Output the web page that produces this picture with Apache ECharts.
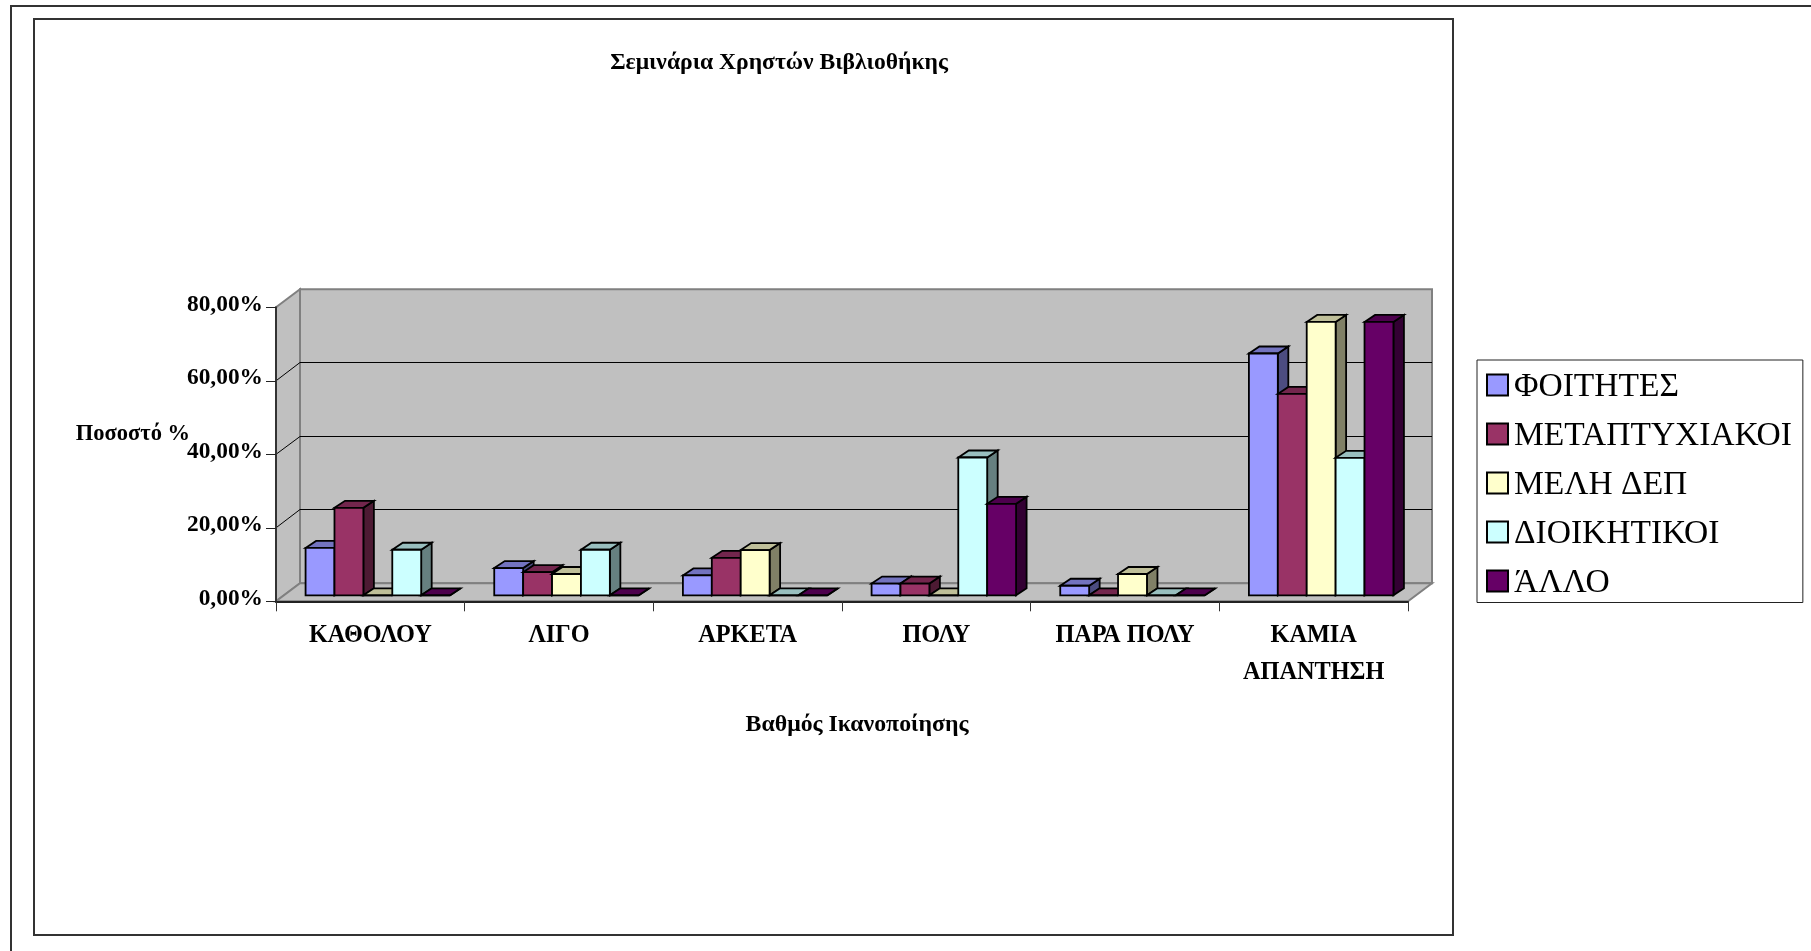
<!DOCTYPE html>
<html><head><meta charset="utf-8">
<style>html,body{margin:0;padding:0;background:#fff;overflow:hidden}#c{width:1811px;height:951px}</style>
<script src="https://cdn.jsdelivr.net/npm/echarts@6/dist/echarts.min.js"></script>
</head><body><div id="c"></div>
<script>
const categories = ['ΚΑΘΟΛΟΥ','ΛΙΓΟ','ΑΡΚΕΤΑ','ΠΟΛΥ','ΠΑΡΑ ΠΟΛΥ','ΚΑΜΙΑ\nΑΠΑΝΤΗΣΗ'];
const foitites = [12.9,7.4,5.4,3.2,2.6,65.8];
const metaptyxiakoi = [23.8,6.3,10.2,3.2,0,54.8];
const meliDep = [0,5.8,12.3,0,5.8,74.4];
const dioikitikoi = [12.4,12.4,0,37.5,0,37.4];
const allo = [0,0,0,24.9,0,74.4];
const seriesNames = ['ΦΟΙΤΗΤΕΣ','ΜΕΤΑΠΤΥΧΙΑΚΟΙ','ΜΕΛΗ ΔΕΠ','ΔΙΟΙΚΗΤΙΚΟΙ','ΆΛΛΟ'];
const seriesValues = [foitites,metaptyxiakoi,meliDep,dioikitikoi,allo];
const yTicks = [0,20,40,60,80];

const front = ['#9999FF','#993366','#FFFFCC','#CCFFFF','#660066'];
const top3d = ['#7373BF','#73264D','#BFBF99','#99BFBF','#4D004D'];
const side3d = ['#4C4C80','#4D1A33','#808066','#668080','#330033'];
const SERIF = '"Liberation Serif","Times New Roman",serif';
const WALL = {dx:24, dy:-18};
const BAR = {dx:10.5, dy:-7, shiftX:7.5, shiftY:-6, ratio:0.766};

function poly(points, fill, stroke, lw){
  return {type:'polygon', shape:{points}, style:{fill, stroke, lineWidth:lw, lineJoin:'miter'}};
}
function renderWalls(params, api){
  const cs = params.coordSys;
  const L = cs.x, R = cs.x+cs.width, T = cs.y, B = cs.y+cs.height;
  const dx = WALL.dx, dy = WALL.dy;
  const children = [
    poly([[L+dx,T+dy],[R+dx,T+dy],[R+dx,B+dy],[L+dx,B+dy]],'#C0C0C0','#808080',2),
    poly([[L,T],[L+dx,T+dy],[L+dx,B+dy],[L,B]],'#C0C0C0','#808080',2),
    poly([[L,B],[L+dx,B+dy],[R+dx,B+dy],[R,B]],'#C0C0C0','#808080',2)
  ];
  yTicks.forEach(v=>{
    if(v===yTicks[0] || v===yTicks[yTicks.length-1]) return;
    const y = api.coord([0,v])[1];
    const yb = Math.floor(y+dy)+0.5;
    children.push({type:'polyline',shape:{points:[[L,y],[L+dx,yb],[R+dx,yb]]},style:{fill:null,stroke:'#000',lineWidth:1}});
  });
  return {type:'group',children};
}
function renderBar(sIdx){
  return function(params, api){
    const cat = api.value(0), val = api.value(1);
    const base = api.coord([cat,0]);
    const topPt = api.coord([cat,val]);
    const band = api.size([1,0])[0];
    const w = band*BAR.ratio/5;
    const x0 = base[0]+BAR.shiftX-2.5*w+sIdx*w, x1 = x0+w;
    const yb = base[1]+BAR.shiftY, yt = topPt[1]+BAR.shiftY;
    const dx = BAR.dx, dy = BAR.dy, s = '#000', lw = 1.8;
    return {type:'group',children:[
      poly([[x1,yb],[x1+dx,yb+dy],[x1+dx,yt+dy],[x1,yt]],side3d[sIdx],s,lw),
      poly([[x0,yt],[x0+dx,yt+dy],[x1+dx,yt+dy],[x1,yt]],top3d[sIdx],s,lw),
      poly([[x0,yb],[x1,yb],[x1,yt],[x0,yt]],front[sIdx],s,lw)
    ]};
  };
}
const series = [{
  name:'walls', type:'custom', silent:true, z:0, renderItem:renderWalls, data:[[0,0]], encode:{x:0,y:1}, tooltip:{show:false}
}];
seriesNames.forEach((n,i)=>{
  series.push({name:n,type:'custom',z:2+i,renderItem:renderBar(i),
    itemStyle:{color:front[i]},
    encode:{x:0,y:1},
    data:seriesValues[i].map((v,c)=>[c,v])});
});
const chart = echarts.init(document.getElementById('c'),null,{renderer:'canvas'});
chart.setOption({
  animation:false,
  backgroundColor:'#fff',
  textStyle:{fontFamily:SERIF},
  title:{text:'Σεμινάρια Χρηστών Βιβλιοθήκης',left:774,top:46,textAlign:'center',
    textStyle:{fontFamily:SERIF,fontSize:23.6,fontWeight:'bold',color:'#000'}},
  legend:{orient:'vertical',left:1477,top:360,icon:'rect',itemWidth:21,itemHeight:21,itemGap:10,
    data:seriesNames,selectedMode:false,
    backgroundColor:'#fff',borderColor:'#222',borderWidth:1,padding:[5.5,11,2,9],
    itemStyle:{borderColor:'#000',borderWidth:2},
    formatter:n=>'{a|'+n+'}',
    textStyle:{fontFamily:SERIF,fontSize:33.5,color:'#000',
      rich:{a:{fontFamily:SERIF,fontSize:33.5,lineHeight:30,color:'#000',padding:[5,0,0,1]}}}},
  grid:{left:276,top:307.3,width:1132,height:294,containLabel:false},
  xAxis:{type:'category',data:categories,z:1,
    name:'Βαθμός Ικανοποίησης',nameLocation:'middle',nameGap:112,
    nameTextStyle:{fontFamily:SERIF,fontSize:23.8,fontWeight:'bold',color:'#000',padding:[0,0,0,30]},
    axisLine:{lineStyle:{color:'#222',width:2}},
    axisTick:{show:true,length:10,alignWithLabel:false,lineStyle:{color:'#333',width:1}},
    splitLine:{show:false},
    axisLabel:{fontFamily:SERIF,fontSize:24.3,fontWeight:'bold',color:'#000',margin:16,lineHeight:37,interval:0}},
  yAxis:{type:'value',min:0,max:80,interval:20,z:1,
    name:'Ποσοστό %',nameLocation:'middle',nameRotate:0,nameGap:86,nameMoveOverlap:false,
    nameTextStyle:{fontFamily:SERIF,fontSize:22.5,fontWeight:'bold',color:'#000',verticalAlign:'bottom',padding:[0,0,9,0]},
    axisLine:{show:true,lineStyle:{color:'#333',width:2}},
    axisTick:{show:true,length:10,lineStyle:{color:'#222',width:1}},
    splitLine:{show:false},
    axisLabel:{fontFamily:SERIF,fontSize:23.4,fontWeight:'bold',color:'#000',margin:13,verticalAlign:'bottom',lineHeight:5,
      formatter:v=>v.toFixed(2).replace('.',',')+'%'}},
  series,
  graphic:[
    {type:'polyline',silent:true,z:-1,shape:{points:[[1811,6],[11,6],[11,951]]},style:{fill:null,stroke:'#333',lineWidth:2}},
    {type:'rect',silent:true,z:-1,shape:{x:34,y:19,width:1419,height:916},style:{fill:null,stroke:'#333',lineWidth:2}}
  ]
});
</script></body></html>
